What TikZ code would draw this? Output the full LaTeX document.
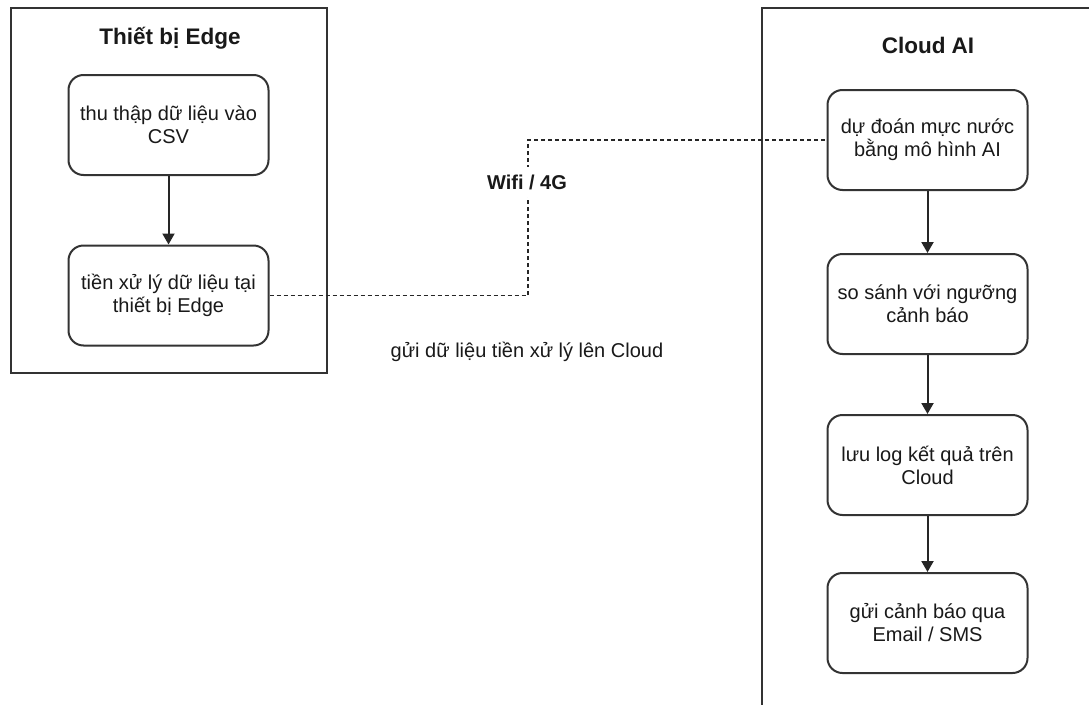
\documentclass[tikz,border=0pt]{standalone}
\usepackage{fontspec}
\setmainfont{Liberation Sans}
\usetikzlibrary{arrows.meta}

\tikzset{
  panel/.style={draw=black!80, line width=2pt, rectangle, inner sep=0pt},
  stepbox/.style={draw=black!80, line width=2pt, rounded corners=15pt,
    minimum width=200pt, minimum height=100pt, align=center, inner sep=4pt,
    font=\fontsize{20}{23}\selectfont, text=black!90},
  title/.style={font=\fontsize{22.5}{26}\selectfont\bfseries, text=black!90},
  flow/.style={draw=black!85, line width=2pt,
    -{Triangle[width=12pt,length=11pt]}},
  link/.style={draw=black!85, line width=1.6pt, dash pattern=on 4pt off 3pt},
  note/.style={font=\fontsize{20}{23}\selectfont, text=black!90}
}

\begin{document}
\begin{tikzpicture}[x=1pt, y=-1pt]
  \useasboundingbox (0,0) rectangle (1089,704);
  \fill[white] (0,0) rectangle (1089,704);
  \clip (0,0) rectangle (1089,704);

  % edge device panel
  \node[panel, minimum width=316pt, minimum height=365pt] (edge) at (169,190.5) {};
  \node[title] (edgetitle) at (170,38) {Thiết bị Edge};
  \node[stepbox] (e1) at (168.5,125) {thu thập dữ liệu vào\\CSV};
  \node[stepbox] (e2) at (168.5,295.5) {tiền xử lý dữ liệu tại\\thiết bị Edge};
  \draw[flow] (e1) -- (e2);

  % cloud panel (continues past the page edge)
  \node[panel, minimum width=360pt, minimum height=740pt] (cloud) at (942,378) {};
  \node[title] (cloudtitle) at (928,45) {Cloud AI};
  \node[stepbox] (c1) at (927.5,140) {dự đoán mực nước\\bằng mô hình AI};
  \node[stepbox] (c2) at (927.5,304) {so sánh với ngưỡng\\cảnh báo};
  \node[stepbox] (c3) at (927.5,465) {lưu log kết quả trên\\Cloud};
  \node[stepbox] (c4) at (927.5,623) {gửi cảnh báo qua\\Email / SMS};
  \draw[flow] (c1) -- (c2);
  \draw[flow] (c2) -- (c3);
  \draw[flow] (c3) -- (c4);

  % network link between the two sides
  \coordinate (bend) at (528,220);
  \draw[link] (e2.east) -| (bend) |- (c1.west);
  \node[note, font=\fontsize{20}{23}\selectfont\bfseries, fill=white,
    inner xsep=3pt, inner ysep=8pt] (wifi) at (527,182) {Wifi / 4G};
  \node[note] (sendlabel) at (527,352) {gửi dữ liệu tiền xử lý lên Cloud};
\end{tikzpicture}
\end{document}
